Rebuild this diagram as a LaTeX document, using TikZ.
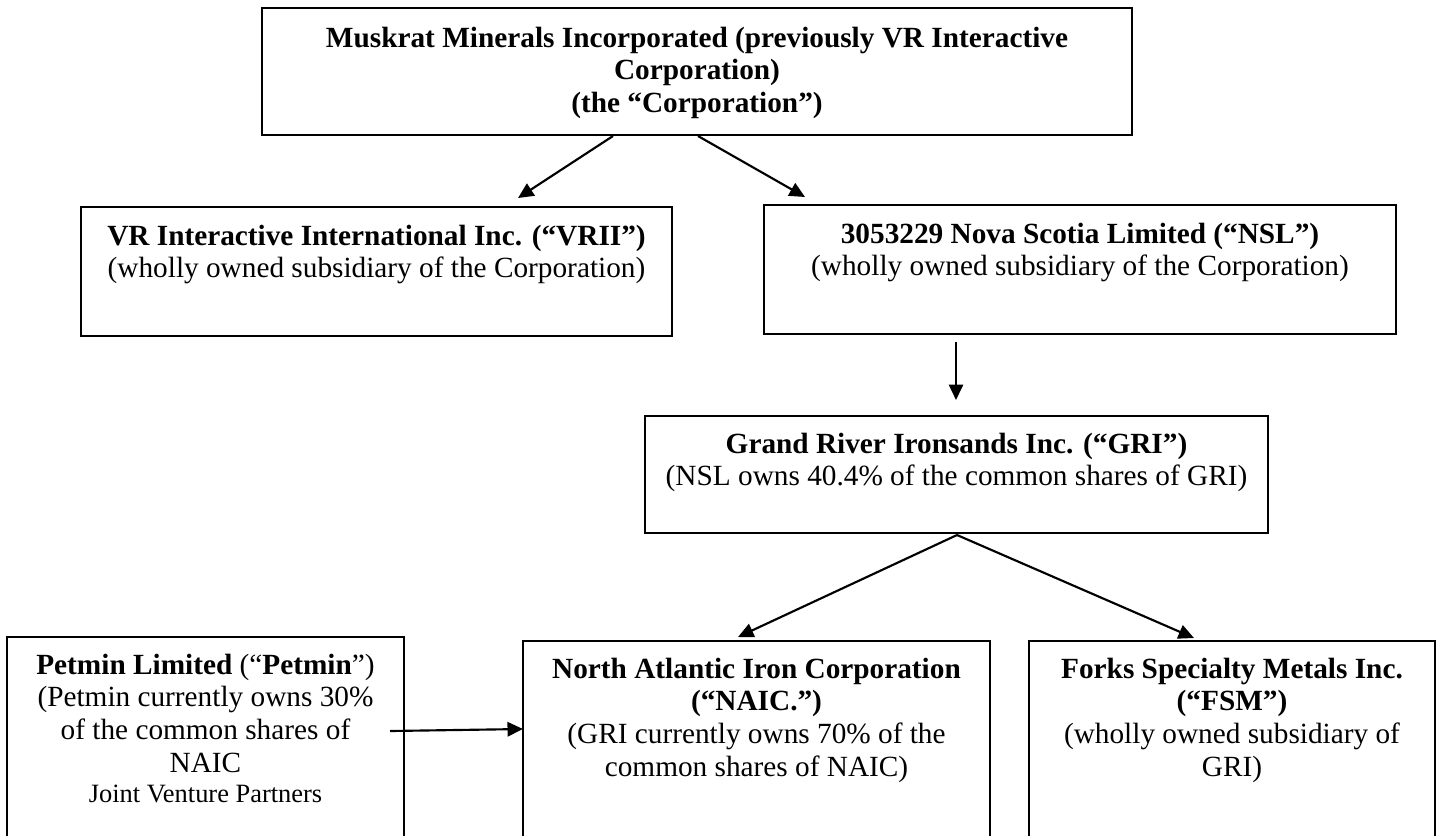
\documentclass[tikz,border=0pt]{standalone}
\usepackage{fontspec}
\setmainfont{Liberation Serif}
\usetikzlibrary{arrows.meta,calc}
\tikzset{
  orgbox/.style={draw=black, line width=1pt, rectangle, inner sep=0pt, outer sep=0pt, anchor=north west},
  orgtext/.style={inner sep=0pt, outer sep=0pt, align=center, anchor=north, font=\fontsize{12.3}{13.8}\selectfont},
  owns/.style={draw=black, line width=0.9pt, -{Triangle[length=6.5pt,width=6pt]}}
}
\begin{document}
\begin{tikzpicture}[x=0.42pt,y=-0.42pt]
\useasboundingbox (0,0) rectangle (1436,835);
\fill[white] (0,0) rectangle (1436,835);
\clip (0,0) rectangle (1436,835);

% boxes
\node[orgbox, minimum width=365.4pt, minimum height=53.34pt] (top) at (262,8) {};
\node[orgbox, minimum width=248.22pt, minimum height=54.18pt] (vrii) at (81,207) {};
\node[orgbox, minimum width=265.44pt, minimum height=54.18pt] (nsl) at (764,205) {};
\node[orgbox, minimum width=261.66pt, minimum height=49.14pt] (gri) at (645,416) {};
\node[orgbox, minimum width=166.74pt, minimum height=100.8pt] (petmin) at (7,637) {};
\node[orgbox, minimum width=196.14pt, minimum height=100.8pt] (naic) at (523,641) {};
\node[orgbox, minimum width=170.52pt, minimum height=100.8pt] (fsm) at (1029,641) {};

% texts
\node[orgtext] (topt) at (697,24) {\strut\textbf{Muskrat Minerals Incorporated (previously VR Interactive}\\\textbf{Corporation)}\\\textbf{(the “Corporation”)}};
\node[orgtext] (vriit) at (376.5,222) {\strut\textbf{VR Interactive International Inc. (“VRII”)}\\(wholly owned subsidiary of the Corporation)};
\node[orgtext] (nslt) at (1080,220) {\strut\textbf{3053229 Nova Scotia Limited (“NSL”)}\\(wholly owned subsidiary of the Corporation)};
\node[orgtext] (grit) at (956.5,430) {\strut\textbf{Grand River Ironsands Inc. (“GRI”)}\\(NSL owns 40.4\% of the common shares of GRI)};
\node[orgtext] (pett) at (205.5,651) {\strut\textbf{Petmin Limited} (“\textbf{Petmin}”)\\(Petmin currently owns 30\%\\of the common shares of\\NAIC\\[-1.2pt]{\fontsize{11.1}{12.6}\selectfont Joint Venture Partners}};
\node[orgtext] (naict) at (756.5,655) {\strut\textbf{North Atlantic Iron Corporation}\\\textbf{(“NAIC.”)}\\(GRI currently owns 70\% of the\\common shares of NAIC)};
\node[orgtext] (fsmt) at (1232,655) {\strut\textbf{Forks Specialty Metals Inc.}\\\textbf{(“FSM”)}\\(wholly owned subsidiary of\\GRI)};

% connectors
\draw[owns] ($(top.south)+(-84,1)$) -- ($(vrii.north)+(141.5,-9)$);
\draw[owns] ($(top.south)+(1,1)$) -- ($(nsl.north)+(-275,-8)$);
\draw[owns] ($(nsl.south)+(-124,8)$) -- ($(gri.north)+(-0.5,-16)$);
\draw[owns] ($(gri.south)+(0.5,2)$) -- ($(naic.north)+(-18.5,-4)$);
\draw[owns] ($(gri.south)+(0.5,2)$) -- ($(fsm.north)+(-38,-3)$);
\draw[owns] ($(petmin.north east)+(-14,94)$) -- ($(naic.north west)+(0,88)$);
\end{tikzpicture}
\end{document}
